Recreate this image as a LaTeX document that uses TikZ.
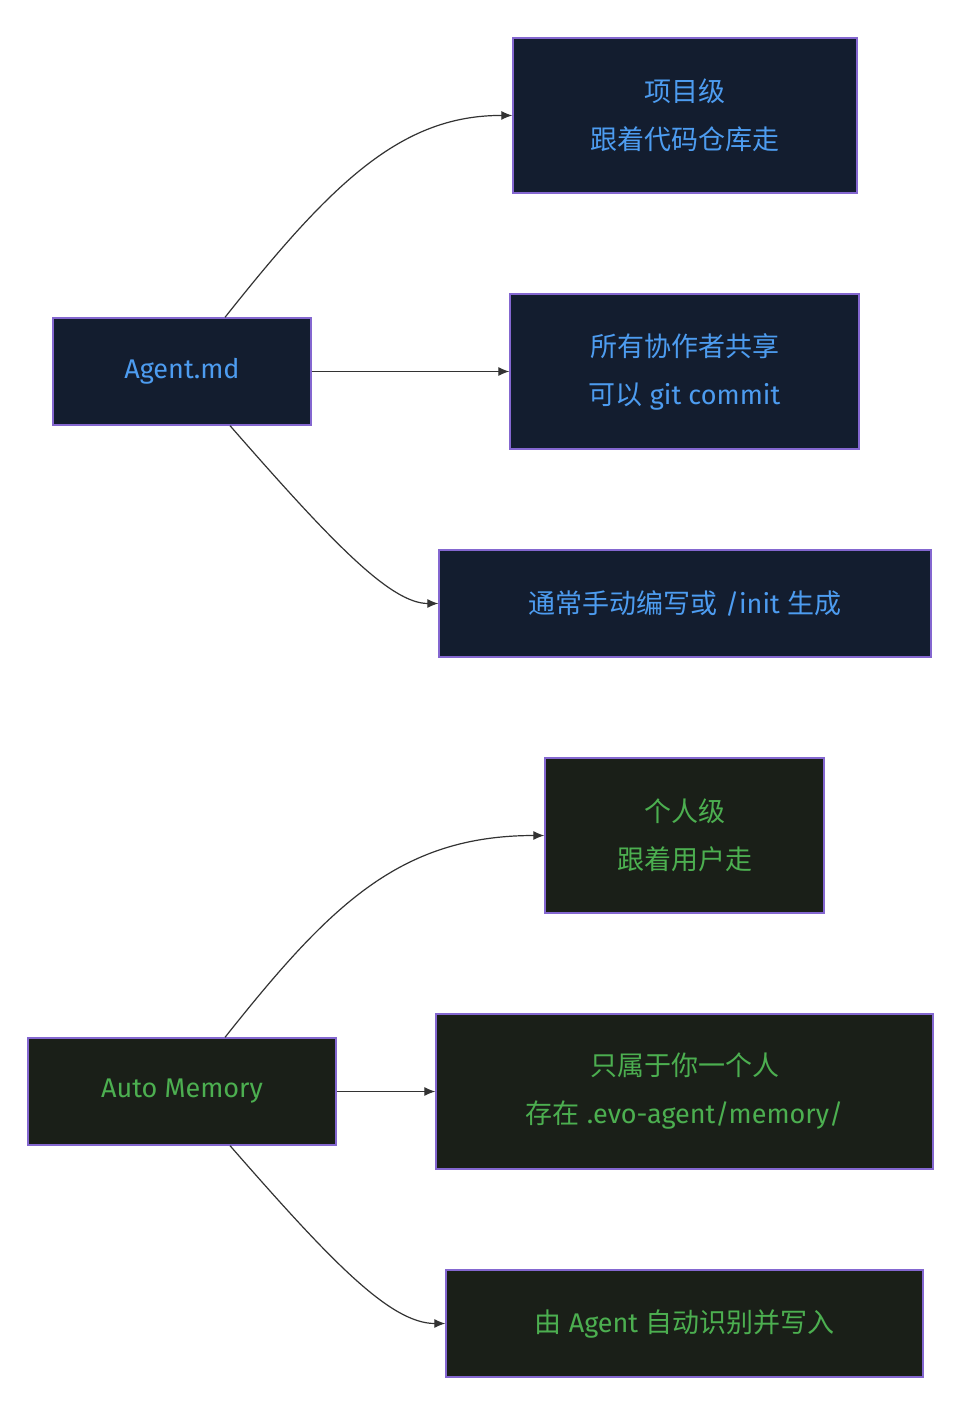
\documentclass[tikz,border=0pt]{standalone}
\usepackage{fontspec}
\setmainfont{Fira Sans}
\newfontfamily\cjk{Noto Sans CJK SC}
\usetikzlibrary{arrows.meta}
\definecolor{navy}{HTML}{131D2F}
\definecolor{dgreen}{HTML}{1A1F18}
\definecolor{bord}{HTML}{8467D0}
\definecolor{tblue}{HTML}{4D9CF0}
\definecolor{tgreen}{HTML}{4CAF50}
\begin{document}
\begin{tikzpicture}[x=1pt,y=-1pt,
 box/.style={draw=bord,line width=1.3pt,inner sep=0pt,align=center,font=\fontsize{27}{48}\selectfont},
 bb/.style={box,fill=navy,text=tblue},
 gb/.style={box,fill=dgreen,text=tgreen},
 ar/.style={draw=black!80,line width=1.2pt,-{Latex[length=11pt,width=9pt]}}]
\useasboundingbox[fill=white] (0,0) rectangle (954,1404);
\node[bb,minimum width=258,minimum height=107] (A1) at (182,371.5) {Agent.md};
\node[bb,minimum width=344,minimum height=155] (B1) at (685,115.5) {{\cjk 项目级}\\{\cjk 跟着代码仓库走}};
\node[bb,minimum width=349,minimum height=155] (B2) at (684.5,371.5) {{\cjk 所有协作者共享}\\{\cjk 可以} git commit};
\node[bb,minimum width=492,minimum height=107] (B3) at (685,603.5) {{\cjk 通常手动编写或} /init {\cjk 生成}};
\node[gb,minimum width=308,minimum height=107] (A2) at (182,1091.5) {Auto Memory};
\node[gb,minimum width=279,minimum height=155] (C1) at (684.5,835.5) {{\cjk 个人级}\\{\cjk 跟着用户走}};
\node[gb,minimum width=497,minimum height=155] (C2) at (684.5,1091.5) {{\cjk 只属于你一个人}\\{\cjk 存在} .evo-agent/memory/};
\node[gb,minimum width=477,minimum height=107] (C3) at (684.5,1323.5) {{\cjk 由} Agent {\cjk 自动识别并写入}};
\draw[ar] ([xshift=43]A1.north) .. controls (330,185) and (400,115) .. (B1.west);
\draw[ar] (A1.east) -- (B2.west);
\draw[ar] ([xshift=48]A1.south) .. controls (330,540) and (390,603.5) .. (B3.west);
\draw[ar] ([xshift=43]A2.north) .. controls (330,905) and (400,835.5) .. (C1.west);
\draw[ar] (A2.east) -- (C2.west);
\draw[ar] ([xshift=48]A2.south) .. controls (330,1260) and (390,1323.5) .. (C3.west);
\end{tikzpicture}
\end{document}
